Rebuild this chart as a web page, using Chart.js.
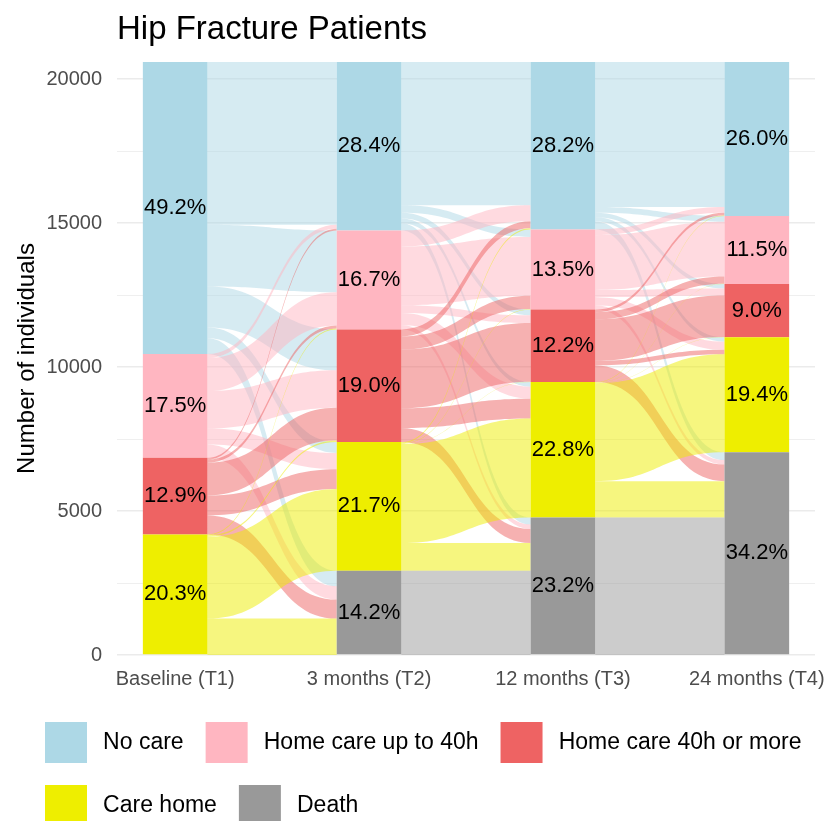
<!DOCTYPE html>
<html lang="en">
<head>
<meta charset="UTF-8">
<title>Hip Fracture Patients</title>
<script src="https://cdn.jsdelivr.net/npm/chart.js@4.4.1/dist/chart.umd.min.js"></script>
<style>
    html, body { margin: 0; padding: 0; background: #fff; }
</style>
</head>
<body>
<canvas id="alluvial" width="827" height="821"></canvas>
<script>
const timepoints = ['Baseline (T1)', '3 months (T2)', '12 months (T3)', '24 months (T4)'];
const categories = ['No care', 'Home care up to 40h', 'Home care 40h or more', 'Care home', 'Death'];
const colours = ['#ADD8E6', '#FFB6C1', '#EE6363', '#EEEE00', '#999999'];

// transitions between time points: rows = from, cols = to (order as categories)
const flowT1T2 = [
    [5650, 2150, 1420,  380,  540],
    [ 140, 1150, 1300,  560,  460],
    [  60,  110, 1140,  690,  660],
    [   0,   30,   54, 2840, 1266],
    [   0,    0,    0,    0,    0]
];
const flowT2T3 = [
    [4975,  265,  200,  160,  250],
    [ 560, 2040,  270,  420,  150],
    [ 240,  460, 2040,  684,  490],
    [  40,   20,   10, 3436,  964],
    [   0,    0,    0,    0, 2926]
];
const flowT3T4 = [
    [5040,  200,  150,  150,  275],
    [ 200, 1905,  250,  280,  150],
    [  90,  250, 1440,  160,  580],
    [  20,   10,   10, 3400, 1260],
    [   0,    0,    0,    0, 4780]
];
const transitions = [flowT1T2, flowT2T3, flowT3T4];

// stratum sizes at each time point
const counts = [flowT1T2.map(r => r.reduce((a, b) => a + b, 0))];
transitions.forEach(m => counts.push(categories.map((_, t) => m.reduce((a, r) => a + r[t], 0))));
const total = counts[0].reduce((a, b) => a + b, 0);

const FONT = 'Liberation Sans, Arial, sans-serif';

function fade(hex, a) {
    const n = parseInt(hex.slice(1), 16);
    return `rgba(${n >> 16}, ${(n >> 8) & 255}, ${n & 255}, ${a})`;
}

// value at the top of each stratum (No care on top, Death at the bottom)
function stratumTops(c) {
    return c.map((_, i) => c.slice(i).reduce((a, b) => a + b, 0));
}

const flowPlugin = {
    id: 'flows',
    beforeDatasetsDraw(chart) {
        const {ctx, scales: {x, y}} = chart;
        const barW = chart.getDatasetMeta(0).data[0].width;
        ctx.save();
        transitions.forEach((m, k) => {
            const x0 = x.getPixelForValue(k + 1) + barW / 2;
            const x1 = x.getPixelForValue(k + 2) - barW / 2;
            const xm = (x0 + x1) / 2;
            const outCur = stratumTops(counts[k]);
            const inCur = stratumTops(counts[k + 1]);
            m.forEach((row, s) => row.forEach((n, t) => {
                if (!n) return;
                const a0 = y.getPixelForValue(outCur[s]);
                const a1 = y.getPixelForValue(outCur[s] - n);
                const b0 = y.getPixelForValue(inCur[t]);
                const b1 = y.getPixelForValue(inCur[t] - n);
                outCur[s] -= n;
                inCur[t] -= n;
                ctx.beginPath();
                ctx.moveTo(x0, a0);
                ctx.bezierCurveTo(xm, a0, xm, b0, x1, b0);
                ctx.lineTo(x1, b1);
                ctx.bezierCurveTo(xm, b1, xm, a1, x0, a1);
                ctx.closePath();
                ctx.fillStyle = fade(colours[s], 0.5);
                ctx.fill();
            }));
        });
        ctx.restore();
    }
};

const labelPlugin = {
    id: 'pctLabels',
    afterDatasetsDraw(chart) {
        const ctx = chart.ctx;
        ctx.save();
        ctx.font = `22px ${FONT}`;
        ctx.fillStyle = '#000';
        ctx.textAlign = 'center';
        ctx.textBaseline = 'middle';
        chart.data.datasets.forEach((ds, di) => {
            chart.getDatasetMeta(di).data.forEach((bar, k) => {
                const v = ds.data[k].y;
                if (!v) return;
                ctx.fillText((v / total * 100).toFixed(1) + '%', bar.x, (bar.y + bar.base) / 2);
            });
        });
        ctx.restore();
    }
};

// datasets stacked bottom-up: Death first
const datasets = categories.map((name, c) => ({
    label: name,
    data: timepoints.map((_, k) => ({x: k + 1, y: counts[k][c]})),
    backgroundColor: colours[c],
    borderWidth: 0,
    categoryPercentage: 1,
    barPercentage: 1 / 3
})).reverse();

new Chart(document.getElementById('alluvial'), {
    type: 'bar',
    data: {datasets},
    options: {
        responsive: false,
        animation: false,
        layout: {padding: {left: 23, right: -20, top: 0, bottom: 0}},
        scales: {
            x: {
                type: 'linear',
                stacked: true,
                offset: false,
                min: 0.7,
                max: 4.3,
                afterBuildTicks: a => { a.ticks = timepoints.map((_, i) => ({value: i + 1})); },
                afterFit: a => { a.height = 45; a.paddingLeft = 0; a.paddingRight = 0; },
                grid: {display: false, drawTicks: false, offset: false},
                border: {display: false},
                ticks: {
                    callback: v => timepoints[v - 1],
                    color: '#4D4D4D',
                    font: {family: FONT, size: 20},
                    padding: 12,
                    maxRotation: 0,
                    autoSkip: false
                }
            },
            y: {
                stacked: true,
                min: 0,
                max: total,
                afterBuildTicks: a => {
                    const t = [];
                    for (let v = 0; v <= 20000; v += 2500) t.push({value: v});
                    a.ticks = t;
                },
                afterFit: a => { a.width = 94; a.paddingTop = 0; a.paddingBottom = 0; },
                grid: {
                    color: '#EBEBEB',
                    lineWidth: c => (c.tick && c.tick.value % 5000 === 0) ? 1.6 : 0.8,
                    drawTicks: false
                },
                border: {display: false},
                ticks: {
                    callback: v => v % 5000 === 0 ? v : '',
                    color: '#4D4D4D',
                    font: {family: FONT, size: 20},
                    padding: 15
                },
                title: {
                    display: true,
                    text: 'Number of individuals',
                    color: '#000',
                    font: {family: FONT, size: 24},
                    padding: {top: -10, bottom: 0}
                }
            },
            yRight: {
                position: 'right',
                display: true,
                afterFit: a => { a.width = 32; },
                grid: {display: false, drawTicks: false},
                border: {display: false},
                ticks: {display: false}
            }
        },
        plugins: {
            title: {
                display: true,
                text: 'Hip Fracture Patients',
                align: 'start',
                fullSize: false,
                color: '#000',
                font: {family: FONT, size: 33, weight: 'normal'},
                padding: {top: 10, bottom: 12.4}
            },
            legend: {
                position: 'bottom',
                align: 'start',
                reverse: true,
                maxHeight: 121,
                labels: {
                    boxWidth: 42,
                    boxHeight: 41,
                    padding: 22,
                    color: '#000',
                    font: {family: FONT, size: 23},
                    // a thin space widens the gap between key and text
                    generateLabels: chart => Chart.defaults.plugins.legend.labels.generateLabels(chart)
                        .map(l => Object.assign(l, {text: '\u2009' + l.text}))
                }
            },
            tooltip: {enabled: false}
        }
    },
    plugins: [flowPlugin, labelPlugin]
});
</script>
</body>
</html>
